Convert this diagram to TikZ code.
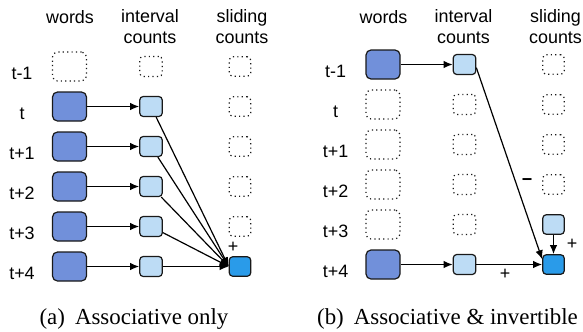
\documentclass[tikz,border=0pt]{standalone}
\usepackage{fontspec}
\setmainfont{Liberation Serif}
\setsansfont{Liberation Sans}
\usetikzlibrary{arrows.meta}
\definecolor{wordblue}{HTML}{7190DA}
\definecolor{cntblue}{HTML}{BDDCF5}
\definecolor{sumblue}{HTML}{2A9BE9}
\newcommand{\capfont}{\rmfamily\fontsize{23}{27}\selectfont}

\begin{document}
\begin{tikzpicture}[x=1bp,y=-1bp,>={Latex[length=9bp,width=7.5bp]},
font=\sffamily\fontsize{18}{21}\selectfont,
cell/.style={rectangle,draw=black!90,line width=1.2bp,inner sep=0pt},
wordcell/.style={cell,minimum width=34bp,minimum height=29bp,rounded corners=5bp},
cntcell/.style={cell,minimum width=22.5bp,minimum height=20bp,rounded corners=3.5bp},
sumcell/.style={cell,minimum width=21.5bp,minimum height=19.5bp,rounded corners=3.5bp},
hollow/.style={dash pattern=on 1.2bp off 3.2bp}]

\useasboundingbox (0,0) rectangle (583,331);

% (a) associative only
\node[anchor=base](words-a) at (70,23){words};
\node[align=center,inner sep=0pt](cnt-a) at (150,27){interval\\counts};
\node[align=center,inner sep=0pt](sum-a) at (242,27){sliding\\counts};

\foreach \lab [count=\i from 0] in {t-1,t,t+1,t+2,t+3,t+4}
  \node[anchor=base](ta\i) at (22,79+40*\i){\lab};

\node[wordcell,hollow](wa0) at (69.5,66.5){};
\foreach \i in {1,...,5}
  \node[wordcell,fill=wordblue](wa\i) at (69.5,66.5+40*\i){};

\node[cntcell,hollow](ca0) at (151,66.5){};
\foreach \i in {1,...,5}
  \node[cntcell,fill=cntblue](ca\i) at (151,66.5+40*\i){};

\foreach \i in {0,...,4}
  \node[sumcell,hollow](sa\i) at (240,66.5+40*\i){};
\node[sumcell,fill=sumblue](sa5) at (240,266.5){};

\begin{scope}[->,line width=1.2bp]
\foreach \i in {1,...,5}{
  \draw (wa\i)--(ca\i);
  \draw (ca\i)--(sa5.west);
}
\end{scope}
\node(plus-a) at (233,247){+};

\node[font=\capfont,anchor=base](cap-a) at (134,324){(a)\hspace{10bp}Associative only};

% (b) associative & invertible
\begin{scope}[xshift=313.5bp]
\node[anchor=base](words-b) at (70,23){words};
\node[align=center,inner sep=0pt](cnt-b) at (150,27){interval\\counts};
\node[align=center,inner sep=0pt](sum-b) at (242,27){sliding\\counts};

\foreach \lab [count=\i from 0] in {t-1,t,t+1,t+2,t+3,t+4}
  \node[anchor=base](tb\i) at (22,77+40*\i){\lab};

\node[wordcell,fill=wordblue](wb0) at (69.5,64.5){};
\foreach \i in {1,...,4}
  \node[wordcell,hollow](wb\i) at (69.5,64.5+40*\i){};
\node[wordcell,fill=wordblue](wb5) at (69.5,264.5){};

\node[cntcell,fill=cntblue](cb0) at (151,64.5){};
\foreach \i in {1,...,4}
  \node[cntcell,hollow](cb\i) at (151,64.5+40*\i){};
\node[cntcell,fill=cntblue](cb5) at (151,264.5){};

\foreach \i in {0,...,3}
  \node[sumcell,hollow](sb\i) at (240,64.5+40*\i){};
\node[sumcell,fill=cntblue](sb4) at (240,224.5){};
\node[sumcell,fill=sumblue](sb5) at (240,264.5){};

\begin{scope}[->,line width=1.2bp]
\draw (wb0)--(cb0);
\draw (cb0.-15)--(sb5.155);
\draw (wb5)--(cb5);
\draw (cb5)--(sb5);
\draw (sb4)--(sb5);
\end{scope}
\node(minus-b) at (213.5,182){\textbf{\char"2212}};
\node(plus-b1) at (191.5,274){+};
\node(plus-b2) at (258.5,244){+};

\node[font=\capfont,anchor=base](cap-b) at (134,324){(b)\hspace{10bp}Associative \& invertible};
\end{scope}

\end{tikzpicture}
\end{document}
